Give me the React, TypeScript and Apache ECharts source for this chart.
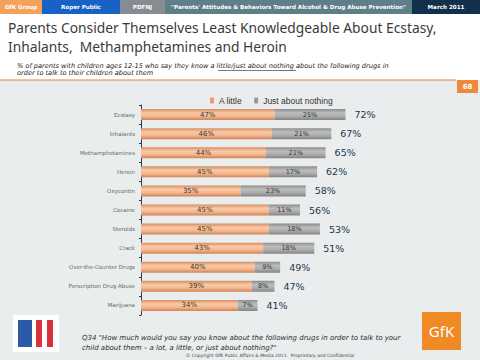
import React, { useEffect, useRef } from "react";
import * as echarts from "echarts";

const categories = [
  "Ecstasy",
  "Inhalants",
  "Methamphetamines",
  "Heroin",
  "Oxycontin",
  "Cocaine",
  "Steroids",
  "Crack",
  "Over-the-Counter Drugs",
  "Perscription Drug Abuse",
  "Marijuana",
];
const aLittle = [47, 46, 44, 45, 35, 45, 45, 43, 40, 39, 34];
const justAboutNothing = [25, 21, 21, 17, 23, 11, 18, 18, 9, 8, 7];
const totalLabels = ["72%", "67%", "65%", "62%", "58%", "56%", "53%", "51%", "49%", "47%", "41%"];

const headerSegments = [
  { text: "GfK Group", x: 0, w: 42, color: "#f3a25a" },
  { text: "Roper Public", x: 42, w: 78, color: "#1862c6" },
  { text: "PDFNJ", x: 120, w: 45, color: "#878c92" },
  { text: "\"Parents' Attitudes & Behaviors Toward Alcohol & Drug Abuse Prevention\"", x: 165, w: 247, color: "#5e7e88" },
  { text: "March 2011", x: 412, w: 68, color: "#11304c" },
];

export default function App() {
  const ref = useRef<HTMLDivElement>(null);
  useEffect(() => {
    if (!ref.current) return;
    const chart = echarts.init(ref.current, null, { renderer: "svg" });
    const orangeGrad = new echarts.graphic.LinearGradient(0, 0, 0, 1, [
      { offset: 0, color: "#d88d60" },
      { offset: 0.35, color: "#f9c9a6" },
      { offset: 0.65, color: "#f6b98f" },
      { offset: 1, color: "#d08258" },
    ]);
    const greyGrad = new echarts.graphic.LinearGradient(0, 0, 0, 1, [
      { offset: 0, color: "#8c8c8c" },
      { offset: 0.35, color: "#bdbdbd" },
      { offset: 0.65, color: "#adadad" },
      { offset: 1, color: "#838383" },
    ]);
    const headerEls: any[] = [];
    headerSegments.forEach((s) => {
      headerEls.push({
        type: "rect",
        shape: { x: s.x, y: 0, width: s.w, height: 14 },
        style: { fill: s.color },
        silent: true,
      });
      headerEls.push({
        type: "text",
        x: s.x + s.w / 2,
        y: 7,
        style: {
          text: s.text,
          fill: "#ffffff",
          font: "bold 5.6px 'DejaVu Sans', sans-serif",
          textAlign: "center",
          textVerticalAlign: "middle",
        },
      });
    });
    chart.setOption({
      animation: false,
      backgroundColor: "#ffffff",
      graphic: [
        { type: "rect", shape: { x: 0, y: 80, width: 480, height: 280 }, style: { fill: "#e9eded" }, silent: true },
        ...headerEls,
        {
          type: "text",
          x: 8,
          y: 18,
          style: {
            text: "Parents Consider Themselves Least Knowledgeable About Ecstasy,\nInhalants,  Methamphetamines and Heroin",
            fill: "#3a3a3a",
            font: "13.8px 'Noto Sans', sans-serif",
            lineHeight: 19,
          },
        },
        {
          type: "text",
          x: 17,
          y: 63,
          style: {
            text: "% of parents with children ages 12-15 who say they know a little/just about nothing about the following drugs in\norder to talk to their children about them",
            fill: "#222",
            font: "italic 6.6px 'DejaVu Sans', sans-serif",
            lineHeight: 6.5,
          },
        },
        { type: "line", shape: { x1: 218, y1: 70.5, x2: 296, y2: 70.5 }, style: { stroke: "#222", lineWidth: 0.6 } },
        { type: "line", shape: { x1: 0, y1: 80, x2: 456, y2: 80 }, style: { stroke: "#e8823a", lineWidth: 1 } },
        { type: "rect", shape: { x: 457, y: 80, width: 21, height: 13 }, style: { fill: "#ee8a3a" } },
        {
          type: "text",
          x: 467.5,
          y: 86.5,
          style: { text: "68", fill: "#fff", font: "bold 7px 'DejaVu Sans', sans-serif", textAlign: "center", textVerticalAlign: "middle" },
        },
        // bottom left logo
        { type: "rect", shape: { x: 13, y: 315, width: 46, height: 37 }, style: { fill: "#ffffff" } },
        { type: "rect", shape: { x: 18, y: 320, width: 14, height: 27 }, style: { fill: "#2d5aa8" } },
        { type: "rect", shape: { x: 36, y: 320, width: 6, height: 27 }, style: { fill: "#d8323c" } },
        { type: "rect", shape: { x: 47, y: 320, width: 6, height: 27 }, style: { fill: "#d8323c" } },
        {
          type: "text",
          x: 82,
          y: 333,
          style: {
            text: "Q34 \"How much would you say you know about the following drugs in order to talk to your\nchild about them – a lot, a little, or just about nothing?\"",
            fill: "#2a2a2a",
            font: "italic 7px 'DejaVu Sans', sans-serif",
            lineHeight: 10,
          },
        },
        {
          type: "text",
          x: 270,
          y: 355,
          style: {
            text: "© Copyright GfK Public Affairs & Media 2011.  Proprietary and Confidential",
            fill: "#444",
            font: "4.5px 'DejaVu Sans', sans-serif",
            textAlign: "center",
            textVerticalAlign: "middle",
          },
        },
        { type: "rect", shape: { x: 422, y: 312, width: 39, height: 38 }, style: { fill: "#ef8a25" } },
        {
          type: "text",
          x: 441.5,
          y: 331,
          style: { text: "GfK", fill: "#fff", font: "15px 'Noto Sans', sans-serif", textAlign: "center", textVerticalAlign: "middle" },
        },
      ],
      legend: {
        top: 91,
        left: 205,
        itemWidth: 4,
        itemHeight: 6,
        itemGap: 12,
        textStyle: { fontSize: 8.5, color: "#333", fontFamily: "'Liberation Sans', Arial, sans-serif" },
        data: [
          { name: "A little", itemStyle: { color: "#ef9a6c" } },
          { name: "Just about nothing", itemStyle: { color: "#9a9a9a" } },
        ],
      },
      grid: { left: 141, right: 55, top: 105, bottom: 45 },
      xAxis: { type: "value", min: 0, max: 100, show: false },
      yAxis: {
        type: "category",
        data: categories,
        inverse: true,
        axisLine: { lineStyle: { color: "#2a3c55", width: 1 } },
        axisTick: { show: true, length: 2, lineStyle: { color: "#2a3c55" } },
        axisLabel: { fontSize: 5.5, color: "#666", margin: 6, fontFamily: "'DejaVu Sans', sans-serif" },
      },
      series: [
        {
          name: "A little",
          type: "bar",
          stack: "t",
          data: aLittle,
          barWidth: 11,
          itemStyle: { color: orangeGrad },
          label: { show: true, position: "inside", formatter: "{c}%", fontSize: 7, color: "#333", fontFamily: "'DejaVu Sans', sans-serif" },
        },
        {
          name: "Just about nothing",
          type: "bar",
          stack: "t",
          data: justAboutNothing,
          barWidth: 11,
          itemStyle: { color: greyGrad },
          label: { show: true, position: "inside", formatter: "{c}%", fontSize: 6.5, color: "#333", fontFamily: "'DejaVu Sans', sans-serif" },
        },
        {
          name: "total",
          type: "bar",
          stack: "t",
          data: totalLabels.map(() => 0),
          barWidth: 11,
          itemStyle: { color: "transparent" },
          label: {
            show: true,
            position: "right",
            distance: 9,
            formatter: (p: any) => totalLabels[p.dataIndex],
            fontSize: 9.5,
            color: "#1d3550",
            fontFamily: "'DejaVu Sans', sans-serif",
          },
        },
      ],
    });
    return () => chart.dispose();
  }, []);
  return <div ref={ref} style={{ position: "fixed", left: 0, top: 0, width: 480, height: 360 }} />;
}
